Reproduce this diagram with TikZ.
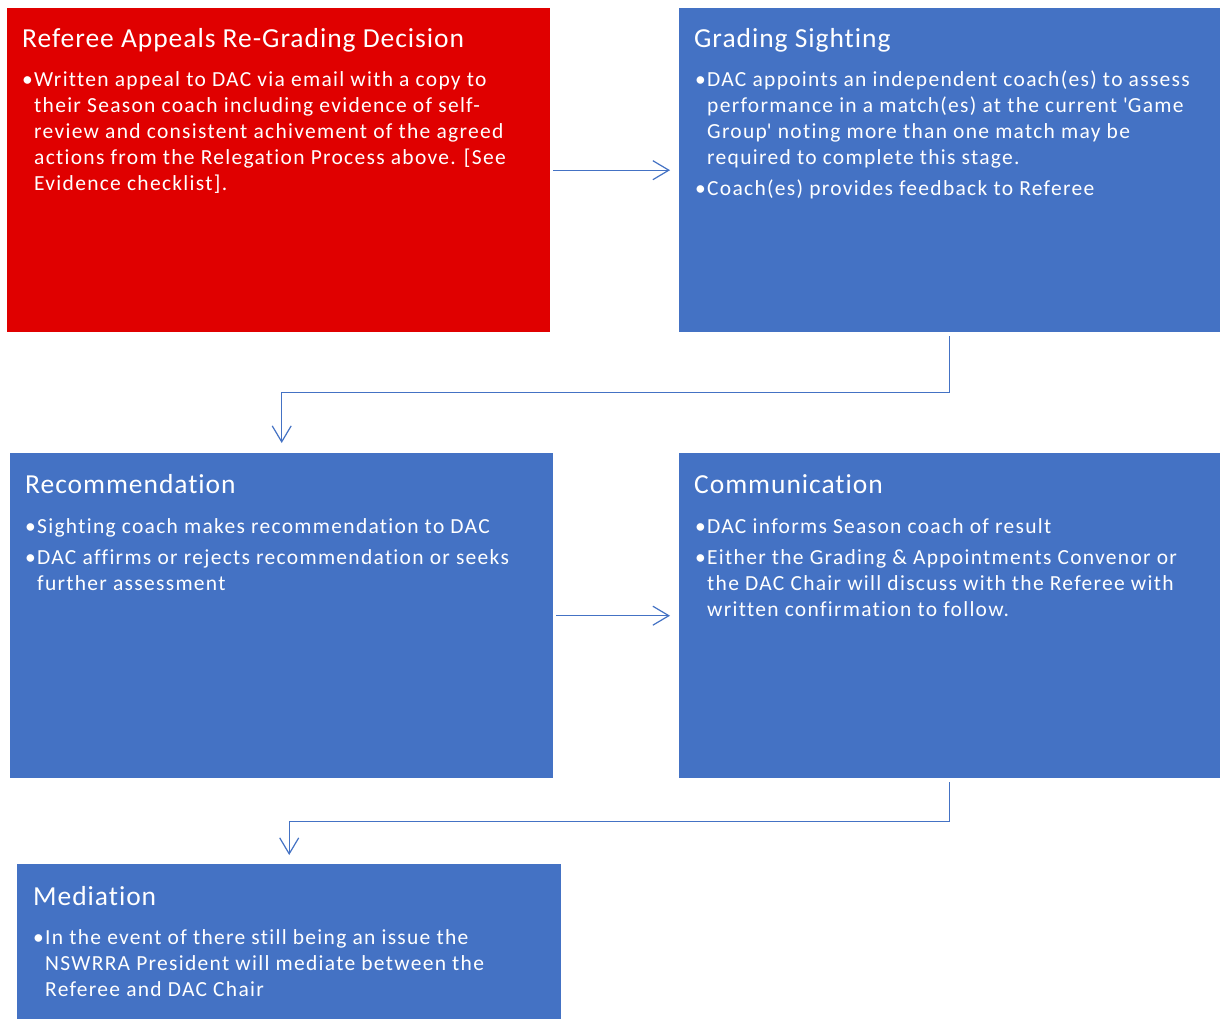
\documentclass[tikz,border=0pt]{standalone}
\usepackage{fontspec}
\setmainfont{Carlito}
\newfontfamily\ttlfont[LetterSpace=3.5,Ligatures={NoCommon,TeX}]{Carlito}
\newfontfamily\bdyfont[LetterSpace=6,Ligatures={NoCommon,TeX}]{Carlito}
\usetikzlibrary{arrows.meta}
\definecolor{boxred}{RGB}{224,0,0}
\definecolor{boxblue}{RGB}{68,114,196}
\newcommand\bitem[1]{\noindent\hangindent=12pt\hangafter=1\makebox[12pt][l]{•}#1\par}
\newcommand\gap{\vskip5pt}
\begin{document}
\begin{tikzpicture}[x=1pt,y=-1pt,
  stagebox/.style={rectangle, draw=none, inner sep=0pt, anchor=north west},
  ttl/.style={anchor=base west, inner sep=0pt, text=white, font=\ttlfont\fontsize{27.5}{33}\selectfont},
  bdy/.style={anchor=base west, inner sep=0pt, text=white, font=\bdyfont\fontsize{21.5}{26}\selectfont},
  conn/.style={draw=boxblue, line width=1.2pt, -{Straight Barb[length=16pt,width=19pt,line width=1.2pt]}}]
\useasboundingbox[fill=white] (0,0) rectangle (1220,1019);
% boxes
\node[stagebox, fill=boxred, minimum width=543pt, minimum height=324pt] (appeal) at (7,8) {};
\node[stagebox, fill=boxblue, minimum width=541pt, minimum height=324pt] (grading) at (679,8) {};
\node[stagebox, fill=boxblue, minimum width=543pt, minimum height=325pt] (rec) at (10,453) {};
\node[stagebox, fill=boxblue, minimum width=541pt, minimum height=325pt] (comm) at (679,453) {};
\node[stagebox, fill=boxblue, minimum width=544pt, minimum height=155pt] (med) at (17,864) {};
% texts
\node[ttl] (appealT) at (22,48) {Referee Appeals Re-Grading Decision};
\node[bdy] (appealB) at (22,87) {\parbox[t]{525pt}{%
 \bitem{Written appeal to DAC via email with a copy to\\their Season coach including evidence of self-\\review and consistent achivement of the agreed\\actions from the Relegation Process above. [See\\Evidence checklist].}}};
\node[ttl] (gradingT) at (694,48) {Grading Sighting};
\node[bdy] (gradingB) at (695,87) {\parbox[t]{525pt}{%
 \bitem{DAC appoints an independent coach(es) to assess\\performance in a match(es) at the current \textquotesingle Game\\Group\textquotesingle{} noting more than one match may be\\required to complete this stage.}\gap
 \bitem{Coach(es) provides feedback to Referee}}};
\node[ttl] (recT) at (25,493) {Recommendation};
\node[bdy] (recB) at (25,533) {\parbox[t]{525pt}{%
 \bitem{Sighting coach makes recommendation to DAC}\gap
 \bitem{DAC affirms or rejects recommendation or seeks\\further assessment}}};
\node[ttl] (commT) at (694,493) {Communication};
\node[bdy] (commB) at (695,533) {\parbox[t]{525pt}{%
 \bitem{DAC informs Season coach of result}\gap
 \bitem{Either the Grading \& Appointments Convenor or\\the DAC Chair will discuss with the Referee with\\written confirmation to follow.}}};
\node[ttl] (medT) at (33,905) {Mediation};
\node[bdy] (medB) at (33,944) {\parbox[t]{525pt}{%
 \bitem{In the event of there still being an issue the\\NSWRRA President will mediate between the\\Referee and DAC Chair}}};
% connectors
\draw[conn] ([xshift=3pt]appeal.east) -- ([xshift=-9pt]grading.west);
\draw[conn] ([yshift=-4pt]grading.south) -- ++(0,56) -| ([yshift=10pt]rec.north);
\draw[conn] ([xshift=3pt]rec.east) -- ([xshift=-9pt]comm.west);
\draw[conn] ([yshift=-4pt]comm.south) -- ++(0,39) -| ([yshift=9pt]med.north);
\end{tikzpicture}
\end{document}
